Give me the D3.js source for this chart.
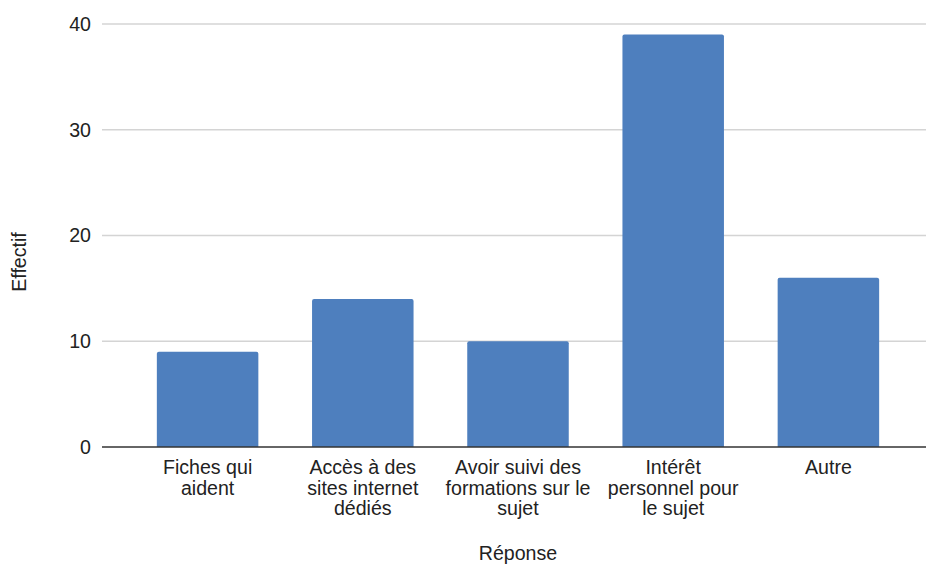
<!DOCTYPE html>
<html>
<head>
<meta charset="utf-8">
<script src="https://cdn.jsdelivr.net/npm/d3@7"></script>
<style>
  html, body { margin: 0; padding: 0; background: #fff; }
  svg { display: block; font-family: "Liberation Sans", Arial, sans-serif; }
</style>
</head>
<body>
<svg id="chart" width="926" height="565"></svg>
<script>
// Réponses et effectifs
const categories = [
  "Fiches qui aident",
  "Accès à des sites internet dédiés",
  "Avoir suivi des formations sur le sujet",
  "Intérêt personnel pour le sujet",
  "Autre"
];
const categoryLines = [
  ["Fiches qui", "aident"],
  ["Accès à des", "sites internet", "dédiés"],
  ["Avoir suivi des", "formations sur le", "sujet"],
  ["Intérêt", "personnel pour", "le sujet"],
  ["Autre"]
];
const effectifs = [9, 14, 10, 39, 16];
const yTicks = [0, 10, 20, 30, 40];
const xTitle = "Réponse";
const yTitle = "Effectif";

const svg = d3.select("#chart");
const plot = { left: 102, right: 926, top: 24, bottom: 447 };
const fontSize = 19.6;

const x = d3.scaleBand()
  .domain(categories)
  .range([130, 906])
  .paddingInner(0.346)
  .paddingOuter(0.173);

const y = d3.scaleLinear()
  .domain([0, 40])
  .range([plot.bottom, plot.top]);

// Horizontal gridlines
svg.append("g")
  .selectAll("line")
  .data(yTicks.filter(d => d !== 0))
  .join("line")
  .attr("x1", plot.left)
  .attr("x2", plot.right)
  .attr("y1", d => y(d))
  .attr("y2", d => y(d))
  .attr("stroke", "#d4d4d4")
  .attr("stroke-width", 1.5);

// Y axis labels
const yAxis = d3.axisLeft(y).tickValues(yTicks).tickSize(0).tickPadding(11);
const gy = svg.append("g")
  .attr("transform", `translate(${plot.left},0)`)
  .call(yAxis);
gy.select(".domain").remove();
gy.selectAll("text")
  .attr("font-size", fontSize)
  .attr("fill", "#222")
  .attr("font-family", "Liberation Sans, Arial, sans-serif");

// Bars with slightly rounded top corners
const r = 2;
function barPath(x0, w, yTop, yBase) {
  return `M${x0},${yBase}V${yTop + r}Q${x0},${yTop} ${x0 + r},${yTop}` +
         `H${x0 + w - r}Q${x0 + w},${yTop} ${x0 + w},${yTop + r}V${yBase}Z`;
}
svg.append("g")
  .selectAll("path")
  .data(categories.map((c, i) => ({ c, v: effectifs[i] })))
  .join("path")
  .attr("d", d => barPath(x(d.c), x.bandwidth(), y(d.v), y(0)))
  .attr("fill", "#4e7fbe");

// Baseline
svg.append("line")
  .attr("x1", plot.left)
  .attr("x2", plot.right)
  .attr("y1", y(0))
  .attr("y2", y(0))
  .attr("stroke", "#333")
  .attr("stroke-width", 1.5);

// Category labels (wrapped)
const xl = svg.append("g");
categories.forEach((c, i) => {
  const cx = x(c) + x.bandwidth() / 2;
  const t = xl.append("text")
    .attr("x", cx)
    .attr("y", 474)
    .attr("text-anchor", "middle")
    .attr("font-size", fontSize)
    .attr("fill", "#222");
  categoryLines[i].forEach((line, j) => {
    t.append("tspan")
      .attr("x", cx)
      .attr("dy", j === 0 ? 0 : 20.5)
      .text(line);
  });
});

// Axis titles
svg.append("text")
  .attr("x", (x.range()[0] + x.range()[1]) / 2)
  .attr("y", 560)
  .attr("text-anchor", "middle")
  .attr("font-size", fontSize)
  .attr("fill", "#222")
  .text(xTitle);

svg.append("text")
  .attr("transform", "translate(26,262) rotate(-90)")
  .attr("text-anchor", "middle")
  .attr("font-size", fontSize)
  .attr("fill", "#222")
  .text(yTitle);
</script>
</body>
</html>
